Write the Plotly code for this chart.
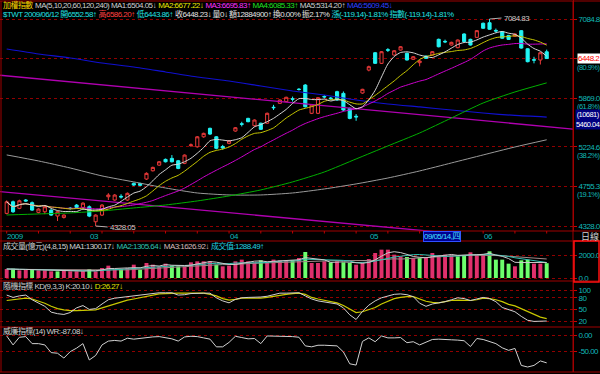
import math
import pandas as pd
import plotly.graph_objects as go

# ---------------- data ----------------
month_idx = [0, 13, 35, 57, 75]
month_lbl = ["2009", "03", "04", "05", "06"]

opens = [4460, 4585, 4514, 4604, 4575, 4471, 4477, 4495, 4432, 4417,
         4516, 4549, 4524, 4531, 4372, 4442, 4640, 4604, 4645, 4604,
         4790, 4788, 4840, 4936, 5003, 5072, 5084, 5055, 5024, 5240,
         5226, 5352, 5461, 5352, 5230, 5269, 5426, 5520, 5592, 5495,
         5528, 5528, 5742, 5796, 5820, 5860, 5995, 6054, 5660, 5660,
         5892, 5870, 5959, 5935, 5728, 5620, 5940, 6274, 6538, 6375,
         6585, 6502, 6580, 6529, 6436, 6385, 6486, 6502, 6750, 6718,
         6659, 6617, 6836, 6750, 6782, 7013, 7022, 6895, 6874, 6813,
         6798, 6890, 6600, 6430, 6426, 6552.58]
highs = [4600, 4598, 4608, 4615, 4588, 4515, 4548, 4505, 4486, 4450,
         4528, 4560, 4580, 4545, 4450, 4560, 4680, 4670, 4668, 4688,
         4800, 4798, 4918, 4985, 5052, 5082, 5124, 5065, 5132, 5268,
         5362, 5405, 5470, 5362, 5250, 5310, 5478, 5547, 5600, 5578,
         5535, 5670, 5775, 5850, 5888, 5890, 6010, 6068, 5780, 5882,
         5910, 5885, 5972, 5962, 5738, 5650, 6000, 6340, 6550, 6565,
         6610, 6578, 6642, 6540, 6485, 6430, 6495, 6562, 6762, 6745,
         6712, 6748, 6848, 6760, 6900, 7025, 7084.83, 6925, 6885, 6822,
         6845, 6900, 6610, 6475, 6550, 6586.20]
lows = [4450, 4465, 4505, 4585, 4485, 4460, 4452, 4432, 4380, 4405,
        4500, 4518, 4515, 4420, 4328.05, 4432, 4604, 4595, 4620, 4595,
        4760, 4758, 4830, 4928, 4995, 5035, 5035, 4955, 5015, 5225,
        5215, 5340, 5375, 5195, 5190, 5258, 5418, 5486, 5540, 5485,
        5440, 5520, 5705, 5788, 5812, 5820, 5975, 5738, 5650, 5650,
        5865, 5845, 5832, 5690, 5580, 5560, 5930, 6255, 6365, 6365,
        6550, 6495, 6572, 6418, 6428, 6330, 6443, 6495, 6622, 6690,
        6650, 6608, 6705, 6650, 6772, 6922, 6905, 6860, 6760, 6740,
        6790, 6602, 6390, 6375, 6357, 6443.86]
closes = [4585, 4477, 4596, 4594, 4495, 4506, 4531, 4442, 4477, 4442,
          4512, 4524, 4570, 4431, 4442, 4549, 4659, 4659, 4638, 4678,
          4771, 4768, 4906, 4976, 5043, 5043, 5043, 4964, 5124, 5250,
          5352, 5396, 5387, 5207, 5210.84, 5302, 5469, 5515, 5548, 5570,
          5448, 5660, 5736, 5842, 5880, 5853, 5990, 5749, 5772, 5874,
          5885, 5862, 5842, 5704, 5592, 5612, 5992.57, 6324, 6375, 6554,
          6578, 6569, 6632, 6426, 6476, 6410, 6451, 6554, 6632, 6710,
          6702, 6739, 6713, 6659, 6890.44, 6930, 6914, 6885, 6768, 6749,
          6836, 6611, 6400, 6424, 6538, 6448.23]

volume = [783, 812, 667, 725, 725, 667, 667, 580, 580, 667,
          580, 580, 580, 783, 580, 870, 1073, 783, 783, 870,
          1160, 725, 1305, 1160, 957, 1247, 1073, 1015, 1015, 1363,
          1450, 1450, 1450, 1160, 1015, 1073, 1450, 1595, 1450, 1363,
          1537, 1305, 1600, 1537, 1537, 1537, 1740, 2262, 1305, 1305,
          1450, 1363, 1450, 1363, 1305, 1160, 1305, 1653, 2175, 2465,
          2465, 2030, 1885, 1827, 1740, 1740, 1740, 2175, 1943, 2030,
          2030, 1885, 1943, 2233, 2030, 2030, 2320, 1595, 1595, 1247,
          1015, 1537, 1595, 1247, 1247, 1288.49]
# 1 = index closed higher than the day before, 0 = lower
vol_up = [1, 0, 1, 1, 0, 1, 1, 1, 0, 1,
          1, 1, 1, 0, 1, 1, 1, 1, 0, 1,
          1, 0, 1, 1, 1, 1, 0, 0, 1, 1,
          1, 1, 1, 0, 1, 1, 1, 1, 1, 1,
          0, 1, 1, 1, 1, 0, 1, 0, 1, 1,
          1, 0, 1, 0, 0, 1, 1, 1, 1, 1,
          1, 1, 1, 0, 1, 0, 1, 1, 1, 1,
          1, 0, 0, 1, 1, 1, 0, 0, 0, 0,
          1, 0, 0, 1, 1, 0]

# long moving averages, read every 5th session
ma_idx = [0, 5, 10, 15, 20, 25, 30, 35, 40, 45, 50, 55, 60, 65, 70, 75, 80, 85]
ma60 = [4443, 4454, 4465, 4486, 4518, 4550, 4594, 4649, 4716, 4807,
        4922, 5077, 5237, 5401, 5597, 5801, 5955, 6085.33]
ma120 = [5126, 5053, 4969, 4876, 4807, 4738, 4682, 4660, 4660, 4682,
         4727, 4784, 4852, 4934, 5029, 5126, 5224, 5314.20]
ma240 = [6596, 6518, 6457, 6380, 6320, 6245, 6171, 6113, 6040, 5969,
         5912, 5842, 5787, 5746, 5705, 5664, 5631, 5609.45]

# hand-drawn trend lines (two anchor sessions each)
trend_idx = [-5, 90]
trend_upper = [6232, 5444]
trend_lower = [4723, 4138]

k_vals = [87, 81, 85, 87, 75, 67, 58, 43, 39, 37, 42, 54, 60, 50, 52, 64, 75, 79, 81, 83,
          85, 87, 89, 91, 93, 93, 93, 87, 88, 91, 92, 92, 92, 80, 72, 67, 76, 80, 81, 81,
          82, 84, 88, 92, 92, 93, 93, 85, 77, 72, 69, 66, 64, 54, 36, 24, 45, 61, 72, 80,
          85, 89, 90, 88, 83, 66, 58, 64, 67, 70, 75, 80, 78, 73, 77, 81, 78, 70, 55, 49,
          44, 32, 22, 19, 19, 20.10]
d_vals = [73, 75, 77, 79, 77, 72, 66, 58, 52, 49, 47, 47, 47, 48, 49, 54, 59, 65, 70, 74,
          77, 80, 84, 87, 90, 91, 92, 92, 92, 92, 92, 92, 89, 85, 78, 74, 76, 79, 79, 79,
          79, 81, 84, 87, 89, 91, 92, 89, 81, 77, 74, 70, 67, 60, 50, 42, 44, 49, 55, 64,
          72, 78, 81, 83, 83, 77, 71, 68, 67, 70, 73, 74, 74, 73, 75, 79, 78, 75, 70, 63,
          59, 52, 45, 36, 30, 26.27]
wr_vals = [-3, -31, -7, -5, -27, -27, -31, -55, -57, -72, -52, -41, -27, -78, -64, -31, -19, -17, -19, -10,
           -13, -10, -7, -6, -5, -9, -12, -19, -6, -4, -5, -9, -13, -37, -37, -23, -4, -8, -12, -11,
           -27, -3, -3, -3, -4, -5, -7, -34, -37, -32, -32, -32, -34, -53, -90, -94, -20, -9, -21, -3,
           -9, -9, -8, -24, -21, -31, -22, -14, -13, -13, -15, -16, -18, -36, -11, -14, -21, -27, -40, -48,
           -42, -95, -100, -95, -81, -87.08]

fib_levels = [4328.0, 4755.3, 5224.6, 5869.0, 6448.2, 7084.8]
fib_text = ["4328.0", "4755.3", "5224.6", "5869.0", "", "7084.8"]
fib_pct = ["", "(19.1%)", "(38.2%)", "(61.8%)", "(80.9%)", ""]

price_ma_labels = ["MA1:6504.05↓", "MA2:6677.22↓", "MA3:6695.83↑",
                   "MA4:6085.33↑", "MA5:5314.20↑", "MA6:5609.45↓"]
vol_ma_labels = ["MA1:1300.17↓", "MA2:1305.64↓", "MA3:1626.92↓"]

# ---------------- styling ----------------
W, H = 600, 374
RED = "#ee3a3a"
CYAN = "#22f4f4"
VRED = "#e0306c"
VGRN = "#6cff6c"
FRAME = "#a00000"
GRID = "#900000"
AXTXT = "#10b8b8"
FONT = "Liberation Sans, Noto Sans CJK TC, sans-serif"
LS = "letter-spacing:-0.55px"

X_RIGHT = 573 / W
XR = [-1.055, 89.14]


def py(pix):
    return 1 - pix / H


def sp(color, s):
    return f'<span style="color:{color};{LS}">{s}</span>'


def tight(s):
    return f'<span style="{LS}">{s}</span>'


idx = list(range(len(closes)))
cs = pd.Series(closes)
ma5 = cs.rolling(5, min_periods=1).mean()
ma10 = cs.rolling(10, min_periods=1).mean()
ma20 = cs.rolling(20, min_periods=1).mean()
vs = pd.Series(volume)
vma4 = vs.rolling(4, min_periods=1).mean()
vma8 = vs.rolling(8, min_periods=1).mean()
vma15 = vs.rolling(15, min_periods=1).mean()

fig = go.Figure()

# price panel
for xs, ys, col, w in [
    (trend_idx, trend_upper, "#b000b0", 1.3),
    (trend_idx, trend_lower, "#b000b0", 1.3),
    (ma_idx, ma240, "#1010d0", 1.2),
    (ma_idx, ma120, "#9a9a9a", 1.0),
    (ma_idx, ma60, "#00b000", 1.0),
    (idx, ma20, "#d000d0", 1.0),
    (idx, ma10, "#c8c800", 1.0),
    (idx, ma5, "#d8d8d8", 1.0),
]:
    fig.add_trace(go.Scatter(x=xs, y=ys, mode="lines", line=dict(color=col, width=w, shape="spline", smoothing=0.6),
                             xaxis="x", yaxis="y", hoverinfo="skip"))

fig.add_trace(go.Candlestick(
    x=idx, open=opens, high=highs, low=lows, close=closes,
    increasing=dict(line=dict(color=RED, width=1), fillcolor="#000000"),
    decreasing=dict(line=dict(color=CYAN, width=1), fillcolor=CYAN),
    whiskerwidth=0, xaxis="x", yaxis="y"))

# volume panel
fig.add_trace(go.Bar(x=idx, y=volume, width=0.62,
                     marker=dict(color=[VRED if u else VGRN for u in vol_up], line=dict(width=0)),
                     xaxis="x2", yaxis="y2"))
for ser, col in [(vma15, "#a08888"), (vma8, "#30c0b0"), (vma4, "#c8c8c8")]:
    fig.add_trace(go.Scatter(x=idx, y=ser, mode="lines", line=dict(color=col, width=1),
                             xaxis="x2", yaxis="y2"))

# KD panel
fig.add_trace(go.Scatter(x=idx, y=d_vals, mode="lines", line=dict(color="#c8c800", width=1.2),
                         xaxis="x3", yaxis="y3"))
fig.add_trace(go.Scatter(x=idx, y=k_vals, mode="lines", line=dict(color="#d0d0d0", width=1),
                         xaxis="x3", yaxis="y3"))
# WR panel
fig.add_trace(go.Scatter(x=idx, y=wr_vals, mode="lines", line=dict(color="#d0d0d0", width=1),
                         xaxis="x4", yaxis="y4"))

xcommon = dict(domain=[0, X_RIGHT], range=XR, visible=False, fixedrange=True)
ycommon = dict(side="right", showline=True, linecolor=FRAME, linewidth=1, ticks="outside", ticklen=3,
               tickcolor="#d00000", tickfont=dict(color=AXTXT, size=8, family=FONT), showgrid=True,
               gridcolor=GRID, griddash="dot", gridwidth=1, zeroline=False, fixedrange=True,
               automargin=False)

lo = math.log10(fib_levels[0])
hi = math.log10(fib_levels[-1])
per_px = (hi - lo) / 207.0
yr_price = [lo - 5 * per_px, hi + 19 * per_px]

fig.update_layout(
    width=W, height=H, margin=dict(l=0, r=0, t=0, b=0, pad=0),
    paper_bgcolor="#000000", plot_bgcolor="#000000", showlegend=False,
    font=dict(family=FONT, size=8, color="#d0d0d0"),
    xaxis=dict(**xcommon, anchor="y", rangeslider=dict(visible=False)),
    xaxis2=dict(**xcommon, anchor="y2", matches="x"),
    xaxis3=dict(**xcommon, anchor="y3", matches="x"),
    xaxis4=dict(**xcommon, anchor="y4", matches="x"),
    yaxis=dict(**ycommon, anchor="x", type="log", domain=[py(231), 1], range=yr_price,
               tickvals=fib_levels, ticktext=[tight(t) for t in fib_text]),
    yaxis2=dict(**ycommon, anchor="x2", domain=[py(281), py(241)], range=[-261, 3217],
                tickvals=[0, 2000], ticktext=[tight("0.0"), tight("2000.0")]),
    yaxis3=dict(**ycommon, anchor="x3", domain=[py(327), py(281)], range=[4.6, 123.4],
                tickvals=[20, 50, 80, 100], ticktext=[tight(t) for t in ["20", "50", "80", "100"]]),
    yaxis4=dict(**ycommon, anchor="x4", domain=[py(372), py(327)], range=[-115.6, 25],
                tickvals=[-50, 0], ticktext=[tight("-50.00"), tight("0.00")]),
)

shapes = []
for pix in [1, 231, 241, 281, 327, 372]:
    shapes.append(dict(type="line", xref="paper", yref="paper", x0=0, x1=1, y0=py(pix), y1=py(pix),
                       line=dict(color=FRAME, width=1)))
for xp in [1, 573]:
    shapes.append(dict(type="line", xref="paper", yref="paper", x0=xp / W, x1=xp / W, y0=py(372), y1=py(1),
                       line=dict(color=FRAME, width=1)))
shapes.append(dict(type="rect", xref="paper", yref="paper", x0=574 / W, x1=599 / W, y0=py(282), y1=py(241),
                   line=dict(color="#ff1010", width=1.5)))
# small date ticks under the price panel
for i in range(0, len(closes), 5):
    shapes.append(dict(type="line", xref="x", yref="paper", x0=i, x1=i, y0=py(231), y1=py(233.5),
                       line=dict(color="#c00000", width=1)))
fig.update_layout(shapes=shapes)

ann = []


def txt(x, ypix, text, color="#d0d0d0", size=8, **kw):
    d = dict(xref="paper", yref="paper", x=x / W, y=py(ypix), text=text, showarrow=False,
             xanchor="left", yanchor="middle", font=dict(color=color, size=size, family=FONT))
    d.update(kw)
    ann.append(d)


line1 = (sp("#ffd800", "加權指數") + " " + sp("#d0d0d0", "MA(5,10,20,60,120,240) " + price_ma_labels[0]) + " "
         + sp("#e8e800", price_ma_labels[1]) + " " + sp("#ff30ff", price_ma_labels[2]) + " "
         + sp("#20e020", price_ma_labels[3]) + " " + sp("#d0d0d0", price_ma_labels[4]) + " "
         + sp("#3040ff", price_ma_labels[5]))
txt(1, 4.5, line1)
line2 = (sp("#20e0e0", f"$TWT 2009/06/12 開{opens[-1]:.2f}↑") + " " + sp("#ff4040", f"高{highs[-1]:.2f}↑") + " "
         + sp("#20e0e0", f"低{lows[-1]:.2f}↑") + " "
         + sp("#e0e0e0", f"收{closes[-1]:.2f}↓ 量0↓ 額12884900↑ 換0.00% 振2.17%") + " "
         + sp("#20e0e0", "漲(-119.14)-1.81% 指數(-119.14)-1.81%"))
txt(1, 14, line2)

txt(1, 246, sp("#d0d0d0", "成交量(億元)(4,8,15) " + vol_ma_labels[0]) + " " + sp("#30c0b0", vol_ma_labels[1]) + " "
    + sp("#d8b8b8", vol_ma_labels[2]) + " " + sp("#20d0e0", f"成交值:{volume[-1]:.2f}↑"))
txt(1, 286, sp("#d0d0d0", f"隨機指標 KD(9,3,3) K:{k_vals[-1]:.2f}↓") + " " + sp("#e0e000", f"D:{d_vals[-1]:.2f}↓"))
txt(1, 331, sp("#d0d0d0", f"威廉指標(14) WR:{wr_vals[-1]:.2f}↓"))

# date strip labels
for i, lab in zip(month_idx, month_lbl):
    ann.append(dict(xref="x", yref="paper", x=i - 0.2, y=py(236), text=tight(lab), showarrow=False,
                    xanchor="left", yanchor="middle", font=dict(color=AXTXT, size=8, family=FONT)))
txt(423, 236, tight("09/05/14,四"), color="#40e0ff", size=8, bgcolor="#000090", bordercolor="#3050ff",
    borderpad=0)
txt(579, 236.5, "日線", color="#d0d0d0", size=9)

# fib percentages
for lv, pct in zip(fib_levels, fib_pct):
    if pct:
        ann.append(dict(xref="paper", yref="y", x=575 / W, y=math.log10(lv), yshift=-8.5, text=tight(pct),
                        showarrow=False, xanchor="left", yanchor="middle",
                        font=dict(color=AXTXT, size=7.5, family=FONT)))
# last close marker
ann.append(dict(xref="paper", yref="y", x=577 / W, y=math.log10(closes[-1]), text=tight(f"{closes[-1]:.1f}"),
                showarrow=False, xanchor="left", yanchor="middle", bgcolor="#ffffff", borderpad=0,
                font=dict(color="#ff0000", size=8, family=FONT)))
# cursor box
txt(575, 120, tight("(10681)<br>5460.04"), color="#ffffff", size=7.5, bgcolor="#000080", borderpad=0)

# high / low markers
hi_i = max(idx, key=lambda i: highs[i])
lo_i = min(idx, key=lambda i: lows[i])
ann.append(dict(xref="x", yref="y", x=hi_i, y=math.log10(highs[hi_i]), ax=12, ay=-1,
                text=tight(f"{highs[hi_i]:.2f}"),
                showarrow=True, arrowhead=0, arrowwidth=1, arrowcolor="#b0b0b0", xanchor="left",
                font=dict(color="#c8c8c8", size=8, family=FONT)))
ann.append(dict(xref="x", yref="y", x=lo_i, y=math.log10(lows[lo_i]), ax=12, ay=1,
                text=tight(f"{lows[lo_i]:.2f}"),
                showarrow=True, arrowhead=0, arrowwidth=1, arrowcolor="#b0b0b0", xanchor="left",
                font=dict(color="#c8c8c8", size=8, family=FONT)))

fig.update_layout(annotations=ann)
fig.write_html("out.html", config={"displayModeBar": False, "staticPlot": True},
               post_script="document.body.style.margin='0px';document.body.style.overflow='hidden';")
